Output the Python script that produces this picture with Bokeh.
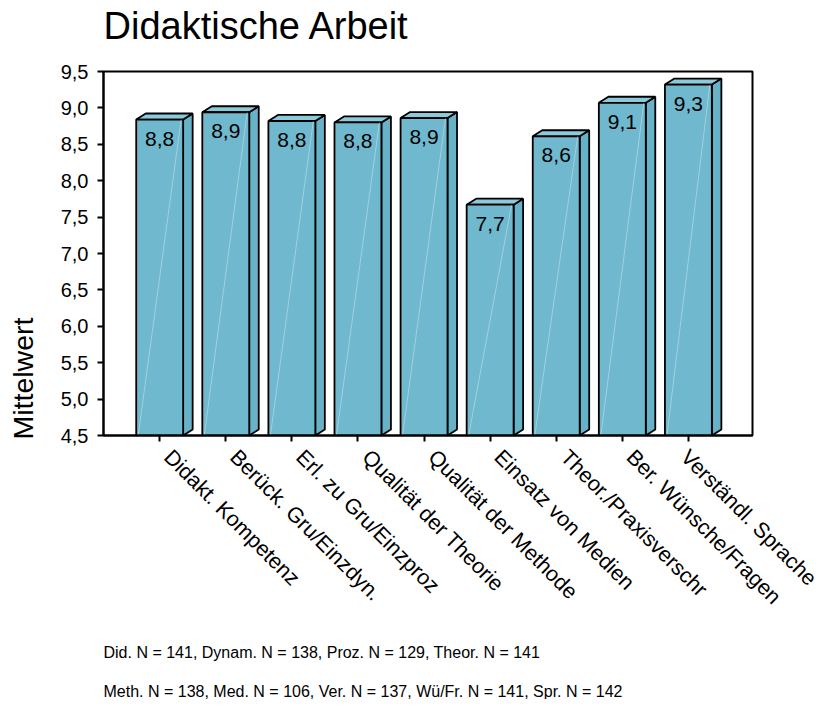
import math
from bokeh.plotting import figure
from bokeh.models import Range1d, FixedTicker, Label, ColumnDataSource
from bokeh.layouts import column, row
from bokeh.core.properties import value
from bokeh.embed import file_html
from bokeh.resources import INLINE

# ---- data ----
categories = ["Didakt. Kompetenz", "Berück. Gru/Einzdyn.", "Erl. zu Gru/Einzproz",
              "Qualität der Theorie", "Qualität der Methode", "Einsatz von Medien",
              "Theor./Praxisverschr", "Ber. Wünsche/Fragen", "Verständl. Sprache"]
means = [8.84, 8.94, 8.82, 8.80, 8.86, 7.67, 8.61, 9.07, 9.32]
y_ticks = [4.5, 5.0, 5.5, 6.0, 6.5, 7.0, 7.5, 8.0, 8.5, 9.0, 9.5]
title_text = "Didaktische Arbeit"
y_label = "Mittelwert"
note_lines = ["Did. N = 141, Dynam. N = 138, Proz. N = 129, Theor. N = 141",
              "Meth. N = 138, Med. N = 106, Ver. N = 137, Wü/Fr. N = 141, Spr. N = 142"]

FONT = "Liberation Sans"
TOTAL_W = 821
LEFT_W = 40
base = y_ticks[0]
W = 0.71      # front face width (x units)
DX = 0.144    # depth in x units
DY = 0.083    # depth in y units
LBL_SHIFT = 0.12
front_col = "#6FB8CE"
side_col = "#68B2C8"
top_col = "#8ACADB"

xs = list(range(len(categories)))
labels = [f"{m:.1f}".replace(".", ",") for m in means]


def text_fig(w, h):
    f = figure(width=w, height=h, min_border=0, x_range=Range1d(0, 1),
               y_range=Range1d(0, 1), output_backend="svg", toolbar_location=None,
               x_axis_location=None, y_axis_location=None, frame_align=False,
               outline_line_color=None, background_fill_color="white",
               border_fill_color="white")
    f.grid.visible = False
    return f


# ---- title strip ----
t = text_fig(TOTAL_W, 51)
t.add_layout(Label(x=103, y=26, x_units="screen", y_units="screen", text=title_text,
                   text_font=FONT, text_font_size="38px", text_baseline="alphabetic",
                   text_color="black"))

# ---- main chart ----
p = figure(frame_width=649, frame_height=364,
           min_border_left=103 - LEFT_W, min_border_right=69,
           min_border_top=20, min_border_bottom=193, frame_align=False,
           x_range=Range1d(-0.85, 8.97), y_range=Range1d(base, y_ticks[-1]),
           output_backend="svg", toolbar_location=None,
           background_fill_color="white", border_fill_color="white")
p.outline_line_color = "black"
p.outline_line_width = 2
p.xgrid.visible = False
p.ygrid.visible = False

side_xs, side_ys, top_xs, top_ys = [], [], [], []
for x, m in zip(xs, means):
    r = x + W / 2
    l = x - W / 2
    side_xs.append([r, r + DX, r + DX, r])
    side_ys.append([base, base + DY, m + DY, m])
    top_xs.append([l, l + DX, r + DX, r])
    top_ys.append([m, m + DY, m + DY, m])

p.patches(side_xs, side_ys, fill_color=side_col, line_color="black", line_width=1.8)
p.patches(top_xs, top_ys, fill_color=top_col, line_color="black", line_width=1.8)
p.vbar(x=xs, top=means, bottom=base, width=W, fill_color=front_col,
       line_color="black", line_width=1.8)
p.segment(x0=[x - W / 2 + 0.03 for x in xs], y0=[base] * len(xs),
          x1=[x + W / 2 - 0.03 for x in xs], y1=means,
          line_color="white", line_alpha=0.35, line_width=1)

src = ColumnDataSource(dict(x=xs, y=means, t=labels))
p.text(x="x", y="y", text="t", source=src, text_align="center",
       text_baseline="alphabetic", y_offset=19,
       text_font=value(FONT), text_font_size="21px", text_color="black")

# y axis
p.yaxis.ticker = FixedTicker(ticks=y_ticks)
p.yaxis.major_label_overrides = {tk: f"{tk:.1f}".replace(".", ",") for tk in y_ticks}
p.yaxis.major_label_standoff = 9
p.yaxis.major_label_text_font_size = "20px"
p.yaxis.major_tick_line_color = "black"
p.yaxis.minor_tick_line_color = None

# x axis: labels at slightly shifted major ticks, tick marks drawn as minor ticks
lab_ticks = [x + LBL_SHIFT for x in xs]
p.xaxis.ticker = FixedTicker(ticks=lab_ticks, minor_ticks=xs)
p.xaxis.major_label_overrides = {tk: c for tk, c in zip(lab_ticks, categories)}
p.xaxis.major_label_orientation = -math.pi / 4
p.xaxis.major_label_standoff = 12
p.xaxis.major_label_text_font_size = "21.5px"
p.xaxis.major_tick_line_color = None
p.xaxis.minor_tick_line_color = "black"
p.xaxis.minor_tick_line_width = 2
p.xaxis.minor_tick_out = 6
p.xaxis.minor_tick_in = 0
for ax in (p.xaxis, p.yaxis):
    ax.axis_line_color = "black"
    ax.axis_line_width = 2
    ax.major_tick_line_width = 2
    ax.major_tick_out = 6
    ax.major_tick_in = 0
    ax.major_label_text_font = FONT
    ax.major_label_text_color = "black"

# ---- y label strip ----
yl = text_fig(LEFT_W, 20 + 364 + 193)
yl.add_layout(Label(x=22, y=189, x_units="screen", y_units="screen", text=y_label,
                    angle=math.pi / 2, text_align="left", text_baseline="alphabetic",
                    text_font=FONT, text_font_size="28.5px", text_color="black"))

# ---- notes strip ----
n = text_fig(TOTAL_W, 71)
for i, line in enumerate(note_lines):
    n.add_layout(Label(x=103, y=47 - 39 * i, x_units="screen", y_units="screen", text=line,
                       text_font=FONT, text_font_size="16px", text_baseline="alphabetic",
                       text_color="black"))

layout = column(t, row(yl, p, spacing=0), n, spacing=0)
open("out.html", "w").write(file_html(layout, INLINE))
